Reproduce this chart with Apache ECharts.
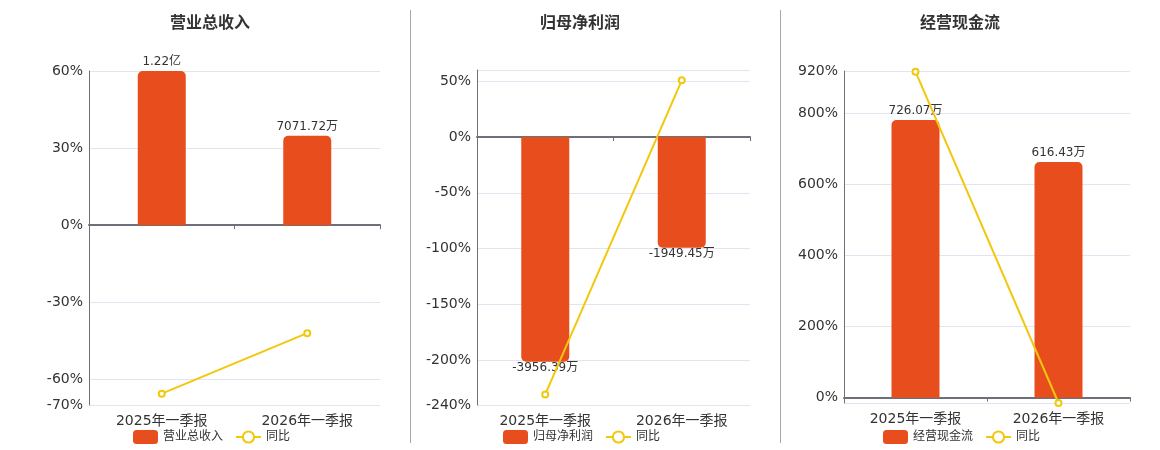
<!DOCTYPE html>
<html>
<head>
<meta charset="utf-8">
<script src="https://cdn.jsdelivr.net/npm/echarts@6/dist/echarts.min.js"></script>
<style>
html,body{margin:0;padding:0;background:#fff;}
#main{width:1160px;height:450px;}
</style>
</head>
<body>
<div id="main"></div>
<script>
// ---------- data ----------
var categories = ['2025年一季报', '2026年一季报'];

var revenueName = '营业总收入';
var revenueValues = [12200, 7071.72];          // 万元
var revenueLabels = ['1.22亿', '7071.72万'];
var revenueYoY = [-65.6, -42.03];              // %

var profitName = '归母净利润';
var profitValues = [-3956.39, -1949.45];       // 万元
var profitLabels = ['-3956.39万', '-1949.45万'];
var profitYoY = [-230.5, 50.73];               // %

var cashName = '经营现金流';
var cashValues = [726.07, 616.43];             // 万元
var cashLabels = ['726.07万', '616.43万'];
var cashYoY = [918, -15.10];                   // %

var yoyName = '同比';

// percent axis: grid-line values and labelled tick values
var revenueTicks = [-70, -60, -30, 0, 30, 60];
var revenueTickLabels = [-70, -60, -30, 0, 30, 60];
var profitTicks = [-240, -200, -150, -100, -50, 0, 50, 60];
var profitTickLabels = [-240, -200, -150, -100, -50, 0, 50];
var cashTicks = [-15.1, 0, 200, 400, 600, 800, 920];
var cashTickLabels = [0, 200, 400, 600, 800, 920];

// ---------- layout / style ----------
var FONT = 'DejaVu Sans, "Noto Sans CJK SC", sans-serif';
var BAR_COLOR = '#E84D1E';
var LINE_COLOR = '#F2C80C';
var AXIS_COLOR = '#6E7079';
var SPLIT_COLOR = '#E0E6F1';
var TEXT_COLOR = '#333';

var panels = [
  { title: revenueName, center: 210, grid: { left: 89, top: 71, width: 291, height: 334 },
    bars: revenueValues, labels: revenueLabels, yoy: revenueYoY,
    ticks: revenueTicks, tickLabels: revenueTickLabels, barScale: 12200 / 60, legendLeft: 128 },
  { title: profitName, center: 580, grid: { left: 477, top: 70, width: 273, height: 335 },
    bars: profitValues, labels: profitLabels, yoy: profitYoY,
    ticks: profitTicks, tickLabels: profitTickLabels, barScale: 3956.39 / 201.2, legendLeft: 498 },
  { title: cashName, center: 960, grid: { left: 844, top: 71, width: 286, height: 332 },
    bars: cashValues, labels: cashLabels, yoy: cashYoY,
    ticks: cashTicks, tickLabels: cashTickLabels, barScale: 726.07 / 782, legendLeft: 878 }
];

var option = {
  animation: false,
  backgroundColor: '#fff',
  textStyle: { fontFamily: FONT },
  title: [], grid: [], xAxis: [], yAxis: [], series: [], legend: [],
  graphic: [
    { type: 'line', shape: { x1: 410.5, y1: 10, x2: 410.5, y2: 443 }, style: { stroke: '#A8A8A8', lineWidth: 1 } },
    { type: 'line', shape: { x1: 780.5, y1: 10, x2: 780.5, y2: 443 }, style: { stroke: '#A8A8A8', lineWidth: 1 } }
  ]
};

panels.forEach(function (p, i) {
  var tMin = Math.min.apply(null, p.ticks);
  var tMax = Math.max.apply(null, p.ticks);
  option.title.push({
    text: p.title, left: p.center - 5, top: 11, textAlign: 'center',
    textStyle: { fontSize: 16, fontWeight: 'bold', color: '#333', fontFamily: FONT }
  });
  option.grid.push({ left: p.grid.left, top: p.grid.top, width: p.grid.width, height: p.grid.height });
  // label axis at the bottom
  option.xAxis.push({
    type: 'category', gridIndex: i, data: categories, position: 'bottom',
    axisLine: { show: false, onZero: false }, axisTick: { show: false },
    axisLabel: { fontSize: 14, color: TEXT_COLOR, margin: 9, fontFamily: FONT },
    splitLine: { show: false }
  });
  // zero line axis
  option.xAxis.push({
    type: 'category', gridIndex: i, data: categories, position: 'bottom',
    axisLine: { show: true, onZero: true, onZeroAxisIndex: i * 2, lineStyle: { color: AXIS_COLOR, width: 2 } },
    axisTick: { show: true, length: 4, lineStyle: { color: AXIS_COLOR } },
    axisLabel: { show: false }, splitLine: { show: false }
  });
  option.yAxis.push({
    type: 'value', gridIndex: i, position: 'left',
    min: tMin, max: tMax,
    axisLine: { show: true, lineStyle: { color: AXIS_COLOR, width: 1 } },
    axisTick: { show: false, customValues: p.ticks },
    axisLabel: { customValues: p.tickLabels, formatter: '{value}%', fontSize: 14, color: TEXT_COLOR, margin: 6, fontFamily: FONT },
    splitLine: { show: true, lineStyle: { color: SPLIT_COLOR, width: 1 } }
  });
  option.yAxis.push({
    type: 'value', gridIndex: i, position: 'right', show: false,
    min: tMin * p.barScale, max: tMax * p.barScale,
    splitLine: { show: false }
  });
  option.series.push({
    name: p.title, type: 'bar', xAxisIndex: i * 2, yAxisIndex: i * 2 + 1,
    barWidth: 48,
    data: p.bars.map(function (v, k) {
      return {
        value: v,
        itemStyle: { borderRadius: v >= 0 ? [5, 5, 0, 0] : [0, 0, 5, 5] },
        label: v >= 0 ? { position: 'top', distance: 3 } : { position: 'bottom', distance: 0 }
      };
    }),
    itemStyle: { color: BAR_COLOR },
    label: {
      show: true, fontSize: 12, color: TEXT_COLOR, fontFamily: FONT,
      formatter: function (params) { return p.labels[params.dataIndex]; }
    },
    z: 2
  });
  option.series.push({
    name: yoyName, type: 'line', xAxisIndex: i * 2, yAxisIndex: i * 2,
    data: p.yoy,
    symbol: 'emptyCircle', symbolSize: 6,
    lineStyle: { color: LINE_COLOR, width: 2 },
    itemStyle: { color: LINE_COLOR, borderWidth: 2 },
    z: 3
  });
  option.legend.push({
    data: [p.title, yoyName], left: p.legendLeft, top: 425,
    itemWidth: 25, itemHeight: 14, itemGap: 12,
    textStyle: { fontSize: 12, color: TEXT_COLOR, fontFamily: FONT }
  });
});

var chart = echarts.init(document.getElementById('main'));
chart.setOption(option);
</script>
</body>
</html>
